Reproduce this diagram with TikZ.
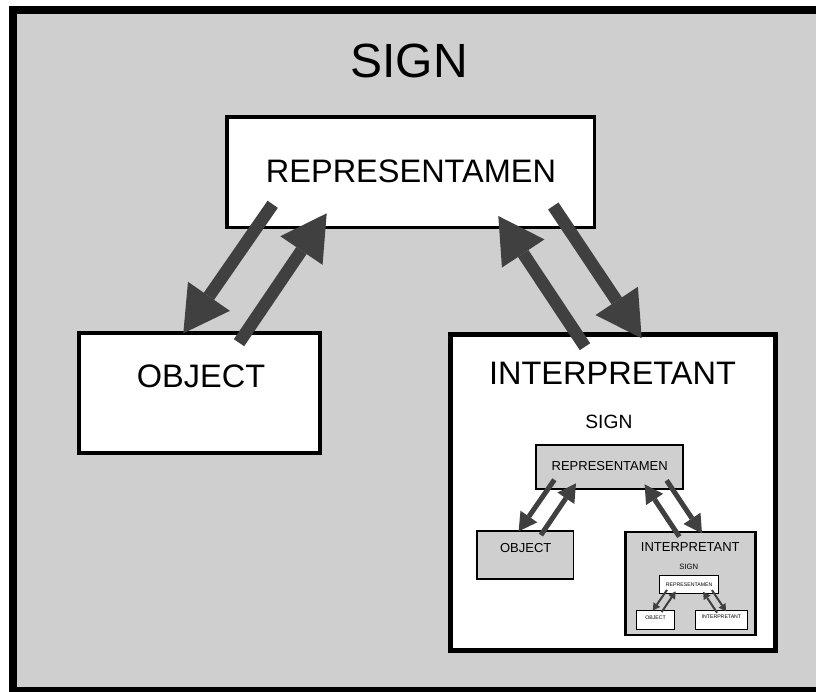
\documentclass[tikz,border=0pt]{standalone}
\usepackage{fontspec}
\setmainfont{Liberation Sans}
\usetikzlibrary{arrows.meta}

\definecolor{panelgray}{RGB}{207,207,207}
\definecolor{arrowgray}{RGB}{64,64,64}

\tikzset{
  box/.style={draw=black, inner sep=0pt, outer sep=0pt},
  lbl/.style={anchor=base, inner sep=0pt, outer sep=0pt, font=\fontsize{32.5}{39}\selectfont},
  ttl/.style={anchor=base, inner sep=0pt, outer sep=0pt, font=\fontsize{48}{58}\selectfont},
  sarrow/.style={draw=arrowgray, line width=\shaftw pt,
    -{Triangle[length=\headl pt, width=\headw pt, line width=0pt]}},
}

% One sign triad, drawn in a local frame (1pt units, y downward).
% #1 name prefix, #2 overall scale (for arrow sizes), #3 box border width,
% #4 interpretant border width, #5 interpretant bottom edge,
% #6 box fill, #7 nested content inside the interpretant
\newcommand\semiosislevel[7]{%
  \pgfmathsetmacro\shaftw{12.5*#2}%
  \pgfmathsetmacro\headl{45*#2}%
  \pgfmathsetmacro\headw{51*#2}%
  \pgfmathsetmacro\inth{#5-334.5}%
  \pgfmathsetmacro\intc{(#5+334.5)/2}%
  \node[ttl] (#1title) at (409,77) {SIGN};
  \node[box, line width=#3pt, fill=#6, minimum width=367.5pt, minimum height=110.5pt] (#1rep) at (410.5,172) {};
  \node[box, line width=#3pt, fill=#6, minimum width=241.4pt, minimum height=120.4pt] (#1obj) at (199.5,393) {};
  \node[box, line width=#4pt, fill=#6, minimum width=325pt, minimum height=\inth pt] (#1int) at (613,\intc) {};
  \node[lbl] (#1repl) at (411,182) {REPRESENTAMEN};
  \node[lbl] (#1objl) at (201,387) {OBJECT};
  \node[lbl] (#1intl) at (612.5,384) {INTERPRETANT};
  \begin{scope}[shift={(445.3,398)}, scale=0.4, transform shape]
    #7
  \end{scope}
  \coordinate (#1aos) at (272.7,204.3);
  \coordinate (#1aoe) at (183.3,333.3);
  \coordinate (#1ars) at (239,342.7);
  \coordinate (#1are) at (326.7,213.3);
  \coordinate (#1bis) at (585,346.7);
  \coordinate (#1bie) at (498.3,216);
  \coordinate (#1bos) at (553.3,206);
  \coordinate (#1boe) at (641.7,338.3);
  \draw[sarrow] (#1aos) -- (#1aoe);
  \draw[sarrow] (#1ars) -- (#1are);
  \draw[sarrow] (#1bis) -- (#1bie);
  \draw[sarrow] (#1bos) -- (#1boe);
}

\begin{document}
\begin{tikzpicture}[x=1pt, y=-1pt]
  \fill[white] (0,0) rectangle (816,691);
  \useasboundingbox (0,0) rectangle (816,691);
  % outer frame: its right side runs past the edge of the picture
  \fill[panelgray] (12.75,13.5) rectangle (816,687);
  \draw[line width=7.5pt] (816,9.75) -- (12.75,9.75) -- (12.75,690.75) -- (816,690.75);
  \semiosislevel{m}{1}{3.5}{5}{650.5}{white}{%
    \semiosislevel{n}{0.4}{1.6}{2.2}{592}{panelgray}{%
      \semiosislevel{o}{0.16}{0.9}{0.9}{453.2}{white}{}%
    }%
  }
  % heavier right and bottom edges of the interpretant panel
  \draw[line width=2.5pt] ([xshift=1pt]mint.north east) -- ([xshift=1pt,yshift=-1pt]mint.south east) -- ([yshift=-1pt]mint.south west);
\end{tikzpicture}
\end{document}
